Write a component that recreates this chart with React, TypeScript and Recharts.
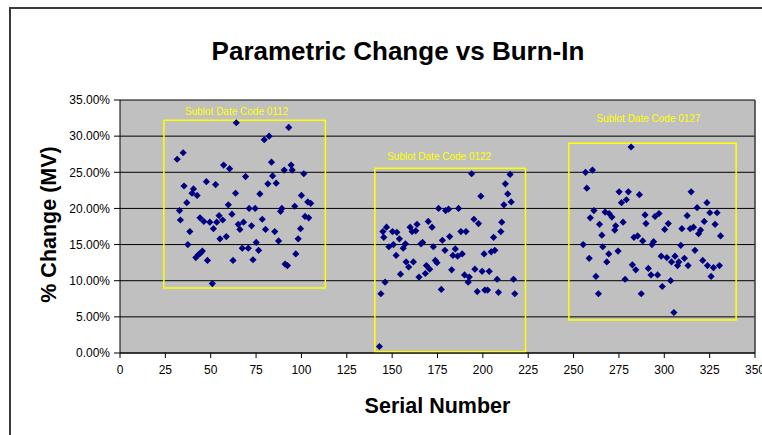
import { ScatterChart, Scatter, XAxis, YAxis, CartesianGrid, ReferenceArea, ReferenceLine } from 'recharts';

// [serial number, % change]
const lot0112: [number, number][] = [
  [64.1, 31.85], [93.0, 31.2], [79.5, 29.5], [82.2, 30.0], [31.5, 26.8], [34.8, 27.7],
  [57.1, 26.0], [60.4, 25.5], [83.5, 26.4], [90.5, 25.3], [94.3, 26.0], [94.9, 25.3],
  [101.3, 24.8], [69.2, 24.4], [84.1, 24.5], [81.5, 23.4], [86.1, 23.5], [47.6, 23.7],
  [52.7, 23.3], [35.3, 23.1], [40.5, 22.7], [39.7, 22.1], [42.5, 21.8], [63.7, 22.1],
  [77.1, 22.0], [100.0, 21.8], [36.8, 20.8], [103.5, 20.9], [105.1, 20.7], [59.7, 20.5],
  [71.2, 20.0], [74.5, 20.0], [89.2, 20.0], [88.5, 19.6], [96.3, 20.3], [32.8, 19.7],
  [33.3, 18.4], [61.7, 19.2], [54.6, 19.0], [44.1, 18.7], [46.2, 18.2], [49.5, 18.1],
  [53.3, 18.1], [56.6, 18.4], [51.5, 17.2], [78.4, 18.5], [102.0, 18.9], [104.0, 18.7],
  [65.2, 17.8], [68.1, 18.1], [66.1, 17.1], [72.5, 17.6], [80.2, 17.1], [85.3, 16.8],
  [99.5, 17.2], [38.5, 16.8], [58.6, 16.1], [55.1, 15.8], [98.2, 15.8], [87.4, 15.5],
  [37.4, 15.0], [75.1, 15.3], [67.4, 14.5], [70.7, 14.5], [76.4, 14.2], [45.4, 14.1],
  [44.3, 13.8], [43.2, 13.6], [41.8, 13.2], [48.2, 12.8], [62.3, 12.8], [73.3, 12.9],
  [96.9, 13.7], [91.0, 12.3], [92.3, 12.1], [50.9, 9.6],
];

const lot0122: [number, number][] = [
  [143.0, 0.9], [143.8, 8.2], [146.1, 9.8], [144.9, 16.8], [145.4, 16.0], [146.9, 17.4],
  [150.2, 16.8], [152.6, 16.7], [148.2, 14.7], [150.7, 15.0], [154.0, 15.8], [152.2, 13.5],
  [156.1, 14.5], [157.3, 15.1], [159.9, 17.4], [161.0, 16.8], [163.0, 16.9], [163.7, 17.8],
  [169.9, 18.2], [172.0, 17.4], [165.9, 15.1], [166.8, 15.3], [157.7, 12.6], [159.1, 11.9],
  [161.7, 12.6], [154.6, 10.9], [164.8, 10.5], [168.3, 11.0], [168.9, 12.1], [170.7, 11.6],
  [172.7, 14.7], [173.8, 12.8], [174.7, 12.5], [175.6, 20.0], [179.5, 19.7], [181.1, 19.9],
  [186.6, 20.0], [177.7, 15.6], [181.7, 16.1], [179.1, 14.2], [184.8, 14.4], [183.5, 13.5],
  [186.1, 13.4], [188.6, 13.7], [187.9, 16.8], [190.7, 16.8], [182.8, 11.5], [177.1, 8.8],
  [193.8, 24.8], [195.1, 18.5], [197.6, 17.9], [198.9, 21.7], [189.9, 10.8], [192.5, 10.5],
  [191.9, 9.8], [195.6, 11.6], [199.6, 11.3], [203.5, 11.3], [196.9, 8.5], [201.1, 8.7],
  [202.6, 8.7], [200.7, 13.7], [204.6, 14.0], [206.6, 14.2], [205.9, 16.0], [209.9, 16.8],
  [210.4, 18.1], [207.9, 10.2], [208.6, 8.4], [216.9, 10.2], [217.6, 8.2], [211.6, 20.5],
  [215.6, 20.9], [213.7, 22.0], [212.4, 23.4], [215.0, 24.7],
];

const lot0127: [number, number][] = [
  [281.7, 28.5], [256.6, 25.0], [260.4, 25.3], [257.3, 22.8], [275.1, 22.3], [280.2, 22.3],
  [276.4, 20.8], [279.1, 21.2], [286.3, 21.9], [261.2, 19.7], [259.2, 18.7], [267.4, 19.5],
  [269.6, 19.3], [271.1, 18.8], [264.3, 17.8], [273.2, 17.6], [272.7, 17.0], [277.3, 18.1],
  [265.6, 16.3], [255.3, 15.0], [266.1, 14.7], [269.4, 13.7], [274.5, 14.1], [258.6, 13.1],
  [268.3, 12.6], [262.3, 10.6], [263.7, 8.2], [278.4, 10.2], [282.4, 12.2], [284.3, 11.5],
  [283.3, 16.0], [285.3, 16.2], [288.1, 15.5], [289.4, 19.1], [289.9, 17.9], [294.9, 18.9],
  [297.1, 19.3], [302.2, 17.9], [300.2, 17.1], [294.1, 15.4], [293.2, 15.0], [291.2, 11.7],
  [292.7, 10.8], [296.3, 10.8], [287.3, 8.2], [298.9, 9.2], [298.3, 13.4], [301.4, 13.2],
  [303.5, 10.0], [305.3, 5.6], [304.0, 12.6], [305.9, 13.4], [307.3, 12.1], [308.0, 12.6],
  [309.1, 14.9], [311.1, 13.1], [313.1, 12.1], [309.7, 17.2], [312.6, 19.0], [314.3, 17.2],
  [316.1, 17.4], [314.8, 22.3], [318.1, 20.1], [318.9, 16.5], [320.0, 17.0], [316.9, 14.2],
  [321.2, 12.8], [323.8, 12.1], [325.8, 10.6], [327.1, 11.8], [330.4, 12.1], [322.0, 18.2],
  [325.1, 19.4], [323.5, 20.8], [329.1, 19.4], [328.0, 17.8], [331.0, 16.2],
];

const sublotBoxes = [
  { code: 'Sublot Date Code 0112', x1: 24.2, x2: 113.2, y1: 9.0, y2: 32.2 },
  { code: 'Sublot Date Code 0122', x1: 140.5, x2: 223.5, y1: 0.18, y2: 25.55 },
  { code: 'Sublot Date Code 0127', x1: 247.4, x2: 339.6, y1: 4.56, y2: 29.0 },
];

const xTicks = [0, 25, 50, 75, 100, 125, 150, 175, 200, 225, 250, 275, 300, 325, 350];
const yTicks = [0, 5, 10, 15, 20, 25, 30, 35];

// label nudges for each box caption (px)
const captionOffsets = [
  { dx: -8, dy: 5 },
  { dx: -11, dy: 8 },
  { dx: -4, dy: 21 },
];

const FONT = '"Liberation Sans", Arial, sans-serif';
const toPoints = (rows: [number, number][]) => rows.map(([serial, change]) => ({ serial, change }));

const Diamond = (props: any) => {
  const { cx, cy } = props;
  const r = 3.6;
  return (
    <polygon
      points={`${cx},${cy - r} ${cx + r},${cy} ${cx},${cy + r} ${cx - r},${cy}`}
      fill="#000080"
    />
  );
};

export default function App() {
  return (
    <div style={{ position: 'absolute', left: 0, top: 0, width: 762, height: 435, background: '#fff', overflow: 'hidden', fontFamily: FONT }}>
      <div style={{ position: 'absolute', left: 9, top: 7, width: 800, height: 500, borderLeft: '2px solid #3a3a3a', borderTop: '2px solid #3a3a3a' }} />
      <svg width={762} height={435} style={{ position: 'absolute', left: 0, top: 0 }}>
        <text x={398} y={60} textAnchor="middle" fontFamily={FONT} fontWeight="bold" fontSize={26} fill="#000">
          Parametric Change vs Burn-In
        </text>
      </svg>
      <div style={{ position: 'absolute', left: 0, top: 0 }}>
        <ScatterChart width={762} height={435} margin={{ top: 100, right: 7, bottom: 52, left: 0 }}>
          <CartesianGrid vertical={false} stroke="#000" fill="#C0C0C0" fillOpacity={1} />
          <XAxis
            type="number"
            dataKey="serial"
            domain={[0, 350]}
            ticks={xTicks}
            interval={0}
            height={30}
            tickSize={5}
            tickMargin={7}
            stroke="#000"
            tick={{ fontSize: 12, fill: '#000', fontFamily: FONT }}
            label={(p: any) => {
              const vb = p.viewBox;
              return (
                <text x={vb.x + vb.width / 2} y={vb.y + 60} textAnchor="middle" fontFamily={FONT} fontWeight="bold" fontSize={21.5} fill="#000">
                  Serial Number
                </text>
              );
            }}
          />
          <YAxis
            type="number"
            dataKey="change"
            domain={[0, 35]}
            ticks={yTicks}
            interval={0}
            width={120}
            tickSize={6}
            tickMargin={4}
            stroke="#000"
            tick={{ fontSize: 12, fill: '#000', fontFamily: FONT }}
            tickFormatter={(v: number) => `${v.toFixed(2)}%`}
            label={(p: any) => {
              const vb = p.viewBox;
              const cy = vb.y + vb.height / 2 - 2;
              return (
                <text x={56} y={cy} transform={`rotate(-90 56 ${cy})`} textAnchor="middle" fontFamily={FONT} fontWeight="bold" fontSize={21.5} fill="#000">
                  % Change (MV)
                </text>
              );
            }}
          />
          <ReferenceLine x={350} stroke="#3a3a3a" strokeWidth={1.5} />
          {sublotBoxes.map((b, i) => (
            <ReferenceArea
              key={b.code}
              x1={b.x1}
              x2={b.x2}
              y1={b.y1}
              y2={b.y2}
              fill="none"
              fillOpacity={0}
              stroke="#FFFF00"
              strokeWidth={1.5}
              strokeOpacity={1}
              label={(p: any) => {
                const vb = p.viewBox;
                return (
                  <text
                    x={vb.x + vb.width / 2 + captionOffsets[i].dx}
                    y={vb.y - captionOffsets[i].dy}
                    textAnchor="middle"
                    fontFamily={FONT}
                    fontSize={10}
                    fill="#FFFF00"
                  >
                    {b.code}
                  </text>
                );
              }}
            />
          ))}
          <Scatter data={toPoints(lot0112)} shape={<Diamond />} isAnimationActive={false} />
          <Scatter data={toPoints(lot0122)} shape={<Diamond />} isAnimationActive={false} />
          <Scatter data={toPoints(lot0127)} shape={<Diamond />} isAnimationActive={false} />
        </ScatterChart>
      </div>
    </div>
  );
}
